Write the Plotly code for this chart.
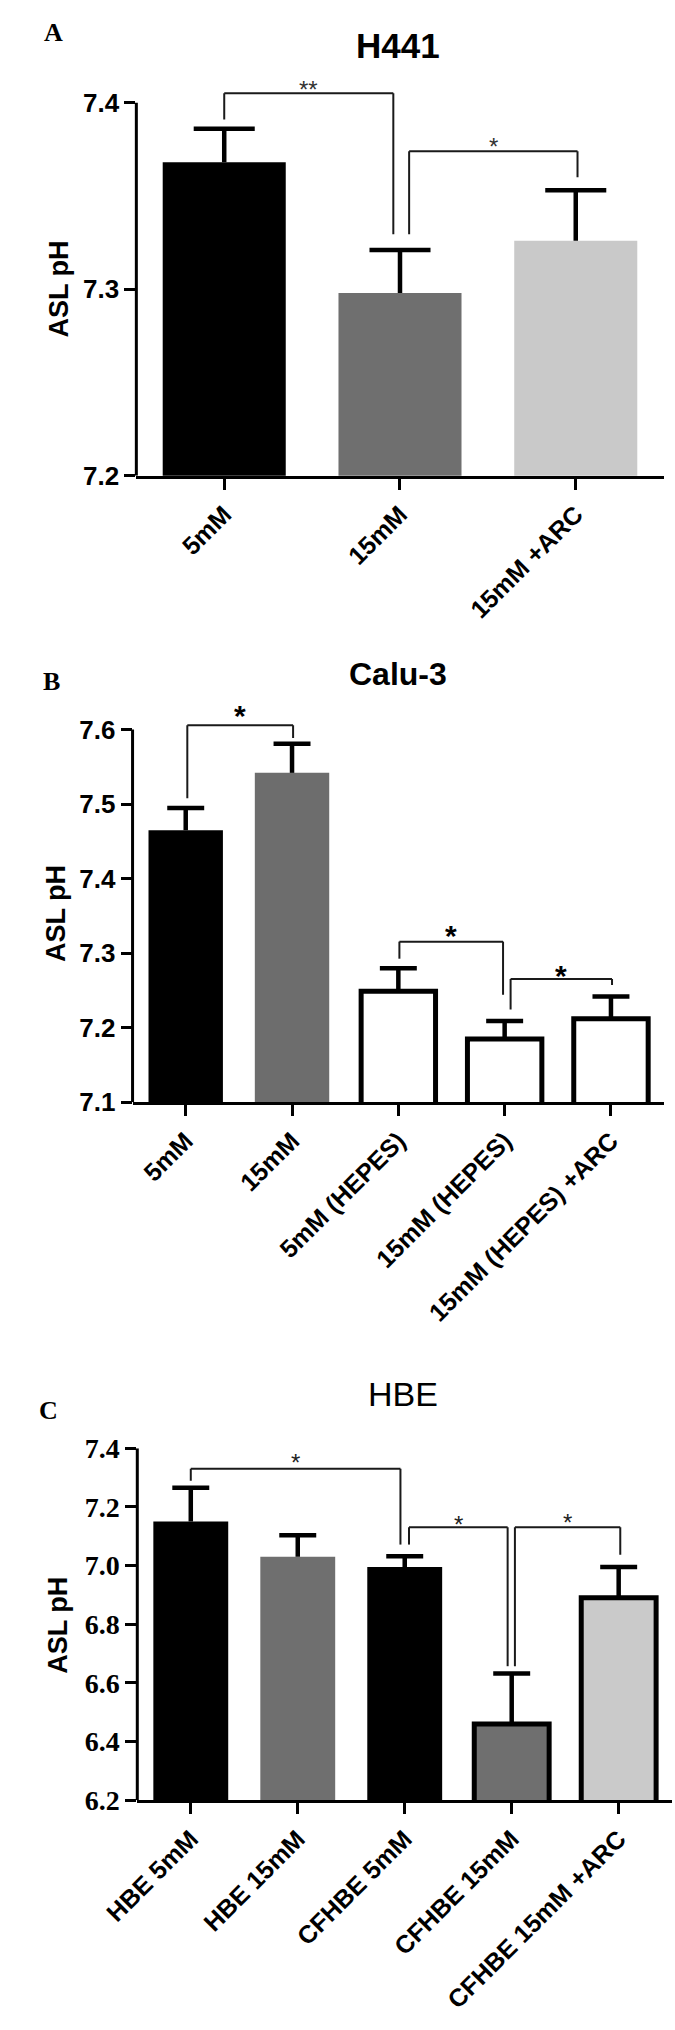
import plotly.graph_objects as go

W, H = 675, 2030

# ---------------- data ----------------
# Panel A : H441
a_categories = ["5mM", "15mM", "15mM +ARC"]
a_means = [7.368, 7.298, 7.326]
a_sem = [0.018, 0.023, 0.027]
a_ticks = [7.2, 7.3, 7.4]
a_ticktext = ["7.2", "7.3", "7.4"]

# Panel B : Calu-3
b_categories = ["5mM", "15mM", "5mM (HEPES)", "15mM (HEPES)", "15mM (HEPES) +ARC"]
b_means = [7.465, 7.542, 7.249, 7.185, 7.212]
b_sem = [0.030, 0.039, 0.031, 0.024, 0.030]
b_ticks = [7.1, 7.2, 7.3, 7.4, 7.5, 7.6]
b_ticktext = ["7.1", "7.2", "7.3", "7.4", "7.5", "7.6"]

# Panel C : HBE
c_categories = ["HBE 5mM", "HBE 15mM", "CFHBE 5mM", "CFHBE 15mM", "CFHBE 15mM +ARC"]
c_means = [7.15, 7.03, 6.995, 6.46, 6.89]
c_sem = [0.115, 0.073, 0.037, 0.172, 0.105]
c_ticks = [6.2, 6.4, 6.6, 6.8, 7.0, 7.2, 7.4]
c_ticktext = ["6.2", "6.4", "6.6", "6.8", "7.0", "7.2", "7.4"]

# significance brackets: left leg x, right leg x (category units), top y, left bottom y, right bottom y, label y, label
a_brackets = [(0.0, 0.962, 7.405, 7.391, 7.3295, 7.4109, "**"),
              (1.052, 2.01, 7.374, 7.3295, 7.360, 7.380, "*")]
b_brackets = [(0.015, 1.01, 7.606, 7.508, 7.5886, 7.6296, "*"),
              (2.01, 2.985, 7.3156, 7.2927, 7.2443, 7.3345, "*"),
              (3.056, 4.01, 7.2654, 7.2245, 7.2575, 7.2816, "*")]
c_brackets = [(0.0, 1.96, 7.33, 7.289, 7.0715, 7.3735, "*"),
              (2.04, 2.962, 7.1305, 7.0715, 6.657, 7.163, "*"),
              (3.03, 4.015, 7.1305, 6.657, 7.037, 7.170, "*")]

# ---------------- styling ----------------
SANS = "Liberation Sans, Arial, sans-serif"
SERIF = "Liberation Serif, Times New Roman, serif"

panels = [
    dict(cats=a_categories, means=a_means, sem=a_sem, ticks=a_ticks, ticktext=a_ticktext,
         brackets=a_brackets, colors=["#000000", "#6f6f6f", "#c9c9c9"], lw=[0, 0, 0],
         xpx=(106, 663), ypx_bottom=468, ypx_per_unit=1895, yrange=(7.2, 7.425), ytop=7.4,
         capsize=43.6, ythick=4.5, tickfont=dict(family=SANS, size=26, color="black", weight="bold"),
         xtickfont=dict(family=SANS, size=25, color="black", weight="bold"),
         starfont=dict(family=SANS, size=24, color="#333333"),
         title="H441", title_pos=(382, 31), title_font=dict(family=SANS, size=35, color="black", weight="bold"),
         letter="A", letter_pos=(19, 18), ylab_pos=(24, 278)),
    dict(cats=b_categories, means=b_means, sem=b_sem, ticks=b_ticks, ticktext=b_ticktext,
         brackets=b_brackets, colors=["#000000", "#6d6d6d", "#ffffff", "#ffffff", "#ffffff"], lw=[0, 0, 5, 5, 5],
         xpx=(102, 663.5), ypx_bottom=1104.2, ypx_per_unit=757, yrange=(7.1, 7.65), ytop=7.6,
         capsize=26.4, ythick=4.5, tickfont=dict(family=SANS, size=26, color="black", weight="bold"),
         xtickfont=dict(family=SANS, size=25, color="black", weight="bold"),
         starfont=dict(family=SANS, size=30, color="black", weight="bold"),
         title="Calu-3", title_pos=(382, 669), title_font=dict(family=SANS, size=32, color="black", weight="bold"),
         letter="B", letter_pos=(16, 677), ylab_pos=(21, 912)),
    dict(cats=c_categories, means=c_means, sem=c_sem, ticks=c_ticks, ticktext=c_ticktext,
         brackets=c_brackets, colors=["#000000", "#6f6f6f", "#000000", "#6f6f6f", "#cacaca"], lw=[0, 0, 0, 5, 5],
         xpx=(107, 672), ypx_bottom=1813, ypx_per_unit=298, yrange=(6.2, 7.4), ytop=7.4,
         capsize=26.4, ythick=4.5, tickfont=dict(family=SERIF, size=28, color="black", weight="bold"),
         xtickfont=dict(family=SANS, size=25, color="black", weight="bold"),
         starfont=dict(family=SANS, size=24, color="#222222"),
         title="HBE", title_pos=(388, 1400), title_font=dict(family=SANS, size=34, color="black"),
         letter="C", letter_pos=(13, 1417), ylab_pos=(23, 1635)),
]

fig = go.Figure()
shapes = []
annotations = []
layout_axes = {}

for i, p in enumerate(panels):
    n = i + 1
    xa = "x" if n == 1 else f"x{n}"
    ya = "y" if n == 1 else f"y{n}"
    xkey = "xaxis" if n == 1 else f"xaxis{n}"
    ykey = "yaxis" if n == 1 else f"yaxis{n}"

    # bars
    fig.add_trace(go.Bar(
        x=p["cats"], y=p["means"], xaxis=xa, yaxis=ya,
        marker=dict(color=p["colors"], line=dict(color="black", width=p["lw"])),
        showlegend=False, hoverinfo="skip"))
    # error bars (upper only): stem from error bar, cap from marker
    tops = [m + s for m, s in zip(p["means"], p["sem"])]
    fig.add_trace(go.Scatter(
        x=p["cats"], y=tops, xaxis=xa, yaxis=ya, mode="markers",
        marker=dict(symbol="line-ew", size=p["capsize"], color="black",
                    line=dict(color="black", width=p["ythick"])),
        error_y=dict(type="data", symmetric=False, array=[0] * len(tops), arrayminus=p["sem"],
                     width=0, thickness=p["ythick"], color="black"),
        showlegend=False, hoverinfo="skip", cliponaxis=False))

    y0, y1 = p["yrange"]
    top_px = p["ypx_bottom"] - (y1 - y0) * p["ypx_per_unit"]
    layout_axes[xkey] = dict(
        domain=[p["xpx"][0] / W, p["xpx"][1] / W], anchor=ya, type="category",
        range=[-0.5, len(p["cats"]) - 0.5], showline=True, linewidth=3, linecolor="black",
        ticks="outside", ticklen=11, tickwidth=3, tickcolor="black", tickangle=-45,
        tickfont=p["xtickfont"], showgrid=False, zeroline=False, fixedrange=True)
    layout_axes[ykey] = dict(
        domain=[1 - p["ypx_bottom"] / H, 1 - top_px / H], anchor=xa, range=[y0, y1],
        showline=False, ticks="outside", ticklen=11, tickwidth=3, tickcolor="black",
        tickvals=p["ticks"], ticktext=p["ticktext"], tickfont=p["tickfont"],
        showgrid=False, zeroline=False, fixedrange=True)

    # y spine up to the top tick
    shapes.append(dict(type="line", xref=f"{xa} domain", yref=ya, x0=0, x1=0, y0=y0, y1=p["ytop"],
                       line=dict(color="black", width=3)))

    # significance brackets
    for (xl, xr, yt, ybl, ybr, ylab, lab) in p["brackets"]:
        for (sx0, sy0, sx1, sy1) in [(xl, ybl, xl, yt), (xl, yt, xr, yt), (xr, yt, xr, ybr)]:
            shapes.append(dict(type="line", xref=xa, yref=ya, x0=sx0, y0=sy0, x1=sx1, y1=sy1,
                               line=dict(color="#1a1a1a", width=2)))
        annotations.append(dict(text=lab, xref=xa, yref=ya, x=(xl + xr) / 2, y=ylab,
                                xanchor="center", yanchor="middle", showarrow=False,
                                yshift=-0.28 * p["starfont"]["size"], font=p["starfont"]))

    # title, panel letter, y-axis label
    tx, ty = p["title_pos"]
    annotations.append(dict(text=p["title"], xref="paper", yref="paper", x=tx / W, y=1 - ty / H,
                            xanchor="center", yanchor="middle", showarrow=False, font=p["title_font"]))
    lx, ly = p["letter_pos"]
    annotations.append(dict(text=p["letter"], xref="paper", yref="paper", x=lx / W, y=1 - ly / H,
                            xanchor="center", yanchor="middle", showarrow=False,
                            font=dict(family=SERIF, size=26, color="black", weight="bold")))
    yx, yy = p["ylab_pos"]
    annotations.append(dict(text="ASL pH", xref="paper", yref="paper", x=yx / W, y=1 - yy / H,
                            xanchor="center", yanchor="middle", showarrow=False, textangle=-90,
                            font=dict(family=SANS, size=27, color="black", weight="bold")))

fig.update_layout(
    width=W, height=H, margin=dict(l=0, r=0, t=0, b=0),
    paper_bgcolor="white", plot_bgcolor="white",
    bargap=0.3, showlegend=False,
    shapes=shapes, annotations=annotations,
    **layout_axes)

fig.write_html("out.html", config={"displayModeBar": False},
               post_script="document.body.style.margin='0';")
